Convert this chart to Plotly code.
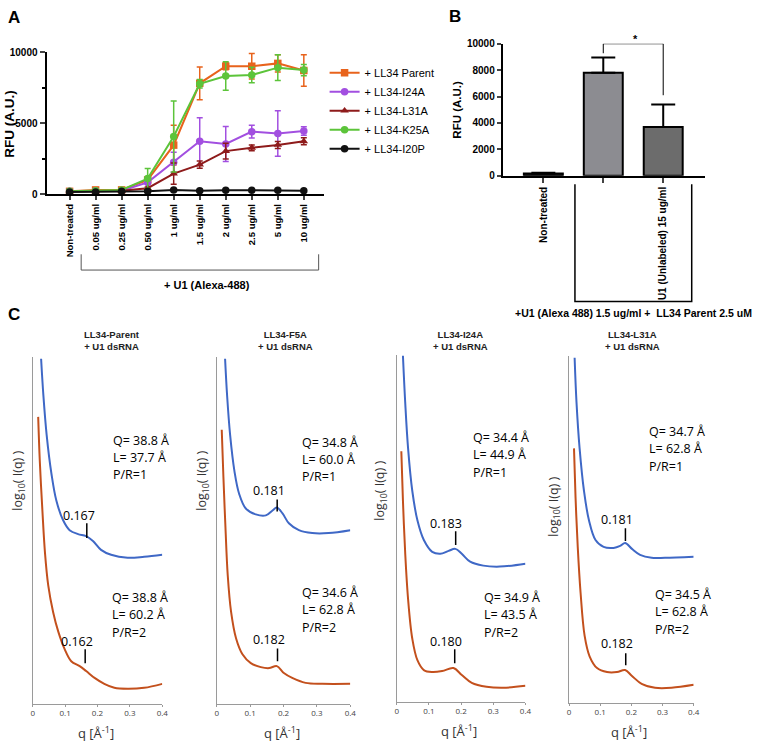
import plotly.graph_objects as go

W, H = 765, 746

# ---- Panel A: RFU vs U1 (Alexa-488) concentration ----
conc_labels = ["Non-treated", "0.05 ug/ml", "0.25 ug/ml", "0.50 ug/ml", "1 ug/ml",
               "1.5 ug/ml", "2 ug/ml", "2.5 ug/ml", "5 ug/ml", "10 ug/ml"]
parent_mean = [200, 300, 300, 1000, 3450, 7800, 9000, 9000, 9200, 8700]
parent_err = [50, 60, 60, 150, 1400, 1150, 250, 900, 600, 1100]
i24a_mean = [200, 250, 250, 830, 2250, 3720, 3530, 4400, 4270, 4450]
i24a_err = [40, 40, 50, 100, 700, 1650, 1230, 450, 1600, 300]
l31a_mean = [200, 200, 250, 420, 1450, 2080, 3030, 3260, 3460, 3720]
l31a_err = [30, 30, 40, 80, 750, 250, 550, 200, 250, 250]
k25a_mean = [200, 250, 300, 1100, 4060, 7760, 8310, 8380, 8900, 8730]
k25a_err = [40, 40, 50, 700, 2500, 300, 1000, 550, 900, 400]
i20p_mean = [150, 150, 200, 200, 300, 250, 280, 280, 280, 250]
i20p_err = [20, 20, 20, 20, 30, 20, 20, 20, 20, 20]

# ---- Panel B: competition with unlabeled U1 ----
b_labels = ["Non-treated", " ", "U1 (Unlabeled) 15 ug/ml"]
b_mean = [180, 7800, 3700]
b_err = [40, 1150, 1700]

# ---- Panel C: SAXS profiles (q in 1/A, log10 I in arbitrary units) ----
parent_q_pr1 = [0.026, 0.033, 0.043, 0.058, 0.073, 0.094, 0.114, 0.140, 0.165, 0.186, 0.211, 0.242, 0.293, 0.344, 0.400]
parent_i_pr1 = [3.50, 3.13, 2.73, 2.33, 2.06, 1.86, 1.76, 1.72, 1.70, 1.65, 1.56, 1.51, 1.48, 1.49, 1.51]
parent_q_pr2 = [0.017, 0.022, 0.030, 0.038, 0.048, 0.063, 0.079, 0.099, 0.119, 0.145, 0.165, 0.191, 0.221, 0.252, 0.293, 0.344, 0.400]
parent_i_pr2 = [2.91, 2.46, 1.96, 1.53, 1.20, 0.93, 0.73, 0.55, 0.43, 0.38, 0.33, 0.26, 0.20, 0.16, 0.15, 0.16, 0.20]

f5a_q_pr1 = [0.025, 0.031, 0.040, 0.053, 0.067, 0.087, 0.117, 0.147, 0.167, 0.180, 0.197, 0.216, 0.246, 0.286, 0.335, 0.400]
f5a_i_pr1 = [3.50, 3.13, 2.73, 2.36, 2.13, 1.98, 1.92, 1.91, 1.96, 1.99, 1.93, 1.83, 1.76, 1.73, 1.73, 1.76]
f5a_q_pr2 = [0.015, 0.020, 0.026, 0.033, 0.043, 0.058, 0.077, 0.102, 0.132, 0.157, 0.180, 0.201, 0.226, 0.266, 0.316, 0.400]
f5a_i_pr2 = [2.78, 2.30, 1.80, 1.30, 0.93, 0.66, 0.50, 0.41, 0.37, 0.36, 0.38, 0.31, 0.26, 0.21, 0.20, 0.20]

i24a_q_pr1 = [0.019, 0.026, 0.035, 0.048, 0.064, 0.084, 0.110, 0.135, 0.161, 0.182, 0.202, 0.228, 0.269, 0.320, 0.400]
i24a_i_pr1 = [3.51, 3.04, 2.57, 2.14, 1.84, 1.64, 1.52, 1.50, 1.53, 1.55, 1.50, 1.42, 1.38, 1.37, 1.40]
i24a_q_pr2 = [0.014, 0.019, 0.026, 0.035, 0.048, 0.064, 0.084, 0.110, 0.141, 0.176, 0.202, 0.233, 0.279, 0.330, 0.400]
i24a_i_pr2 = [2.54, 2.04, 1.51, 1.04, 0.64, 0.42, 0.32, 0.30, 0.31, 0.34, 0.27, 0.19, 0.15, 0.14, 0.16]

l31a_q_pr1 = [0.018, 0.024, 0.034, 0.048, 0.064, 0.085, 0.111, 0.143, 0.164, 0.180, 0.202, 0.228, 0.265, 0.308, 0.400]
l31a_i_pr1 = [3.50, 3.05, 2.58, 2.15, 1.85, 1.65, 1.58, 1.57, 1.59, 1.62, 1.56, 1.50, 1.47, 1.47, 1.48]
l31a_q_pr2 = [0.016, 0.021, 0.028, 0.037, 0.050, 0.066, 0.090, 0.122, 0.154, 0.180, 0.202, 0.233, 0.276, 0.329, 0.400]
l31a_i_pr2 = [2.58, 2.08, 1.58, 1.12, 0.68, 0.47, 0.35, 0.31, 0.31, 0.33, 0.27, 0.19, 0.15, 0.15, 0.18]

c_titles = ["LL34-Parent<br>+ U1 dsRNA", "LL34-F5A<br>+ U1 dsRNA",
            "LL34-I24A<br>+ U1 dsRNA", "LL34-L31A<br>+ U1 dsRNA"]
c_peak_pr1 = [0.167, 0.181, 0.183, 0.181]
c_peak_pr2 = [0.162, 0.182, 0.180, 0.182]
c_text_pr1 = [["Q= 38.8 Å", "L= 37.7 Å", "P/R=1"], ["Q= 34.8 Å", "L= 60.0 Å", "P/R=1"],
              ["Q= 34.4 Å", "L= 44.9 Å", "P/R=1"], ["Q= 34.7 Å", "L= 62.8 Å", "P/R=1"]]
c_text_pr2 = [["Q= 38.8 Å", "L= 60.2 Å", "P/R=2"], ["Q= 34.6 Å", "L= 62.8 Å", "P/R=2"],
              ["Q= 34.9 Å", "L= 43.5 Å", "P/R=2"], ["Q= 34.5 Å", "L= 62.8 Å", "P/R=2"]]

# pixel layout helpers
def px(x):
    return x / W

def py(y):
    return 1 - y / H

ARIAL = "Liberation Sans, Arial"
SANS = "Open Sans, Noto Sans"
BLUE = "#3f68c6"
RUST = "#c3501d"

fig = go.Figure()

# ---------- Panel A ----------
a_series = [
    ("+ LL34 Parent", parent_mean, parent_err, "#e8631c", "square"),
    ("+ LL34-I24A", i24a_mean, i24a_err, "#a24fe0", "circle"),
    ("+ LL34-L31A", l31a_mean, l31a_err, "#8e1b1b", "triangle-up"),
    ("+ LL34-K25A", k25a_mean, k25a_err, "#5cc43a", "circle"),
    ("+ LL34-I20P", i20p_mean, i20p_err, "#111111", "circle"),
]
xs = list(range(len(conc_labels)))
for name, mean, err, color, sym in a_series:
    fig.add_trace(go.Scatter(
        x=xs, y=mean, name=name, mode="lines+markers",
        line=dict(color=color, width=2),
        marker=dict(color=color, symbol=sym, size=7.5),
        error_y=dict(type="data", array=err, color=color, thickness=1.5, width=3),
        xaxis="x", yaxis="y", cliponaxis=False,
    ))

# ---------- Panel B ----------
fig.add_trace(go.Bar(
    x=[0, 1, 2], y=b_mean, width=0.65,
    marker=dict(color=["#2a2a2a", "#8c8c91", "#6c6c6c"], line=dict(color="black", width=2)),
    error_y=dict(type="data", array=b_err, arrayminus=[0, 0, 0], symmetric=False,
                 color="black", thickness=2, width=12),
    xaxis="x2", yaxis="y2", showlegend=False,
))

# ---------- Panel C ----------
c_data = [
    (parent_q_pr1, parent_i_pr1, parent_q_pr2, parent_i_pr2),
    (f5a_q_pr1, f5a_i_pr1, f5a_q_pr2, f5a_i_pr2),
    (i24a_q_pr1, i24a_i_pr1, i24a_q_pr2, i24a_i_pr2),
    (l31a_q_pr1, l31a_i_pr1, l31a_q_pr2, l31a_i_pr2),
]
for k, (q1, i1, q2, i2) in enumerate(c_data):
    ax = str(k + 3)
    fig.add_trace(go.Scatter(x=q1, y=i1, mode="lines", line=dict(color=BLUE, width=2, shape="spline"),
                             xaxis="x" + ax, yaxis="y" + ax, showlegend=False))
    fig.add_trace(go.Scatter(x=q2, y=i2, mode="lines", line=dict(color=RUST, width=2, shape="spline"),
                             xaxis="x" + ax, yaxis="y" + ax, showlegend=False))

# pixel boxes for the SAXS panels: (left, right, bottom)
c_boxes = [(31, 162, 708), (217, 352, 708), (399, 529, 706), (573, 699, 707)]
c_title_x = [111, 287, 463, 637]
c_ylab = [(17, 482), (203, 482), (383, 492), (558, 508)]
c_top_text = [(110, 441), (301, 443), (474, 438), (652, 432)]
c_bot_text = [(109, 600), (301, 595), (485, 600), (658, 597)]
c_pk1 = [(78, 517, 525, 540), (270, 492, 501, 513), (449, 525, 533, 547), (622, 521, 530, 543)]
c_pk2 = [(76, 645, 653, 667), (270, 643, 652, 665), (449, 645, 653, 667), (622, 647, 657, 669)]

layout_axes = {}
layout_axes["xaxis"] = dict(
    domain=[px(45), px(325)], range=[-0.886, 9.76], anchor="y",
    tickvals=xs, ticktext=conc_labels, tickangle=-90,
    tickfont=dict(family=ARIAL, size=9.5, color="black", weight="bold"),
    showline=True, linecolor="black", linewidth=2, ticks="outside", ticklen=4,
    tickwidth=1.5, showgrid=False, zeroline=False,
)
layout_axes["yaxis"] = dict(
    domain=[py(191), py(46.7)], range=[0, 10000], anchor="x",
    tickvals=[0, 5000, 10000], ticktext=["0", "5000", "10000"],
    tickfont=dict(family=ARIAL, size=10, color="black", weight="bold"),
    showline=True, linecolor="black", linewidth=2, ticks="outside", ticklen=5, tickwidth=2,
    minor=dict(dtick=2500, ticks="outside", ticklen=3, tickwidth=1.5, tickcolor="black"),
    showgrid=False, zeroline=False,
)
layout_axes["xaxis2"] = dict(
    domain=[px(506), px(710)], range=[-0.678, 2.69], anchor="y2",
    tickvals=[0, 1, 2], ticktext=b_labels, tickangle=-90,
    tickfont=dict(family=ARIAL, size=10, color="black", weight="bold"),
    showline=True, linecolor="black", linewidth=2, ticks="outside", ticklen=5, tickwidth=1.5,
    showgrid=False, zeroline=False,
)
layout_axes["yaxis2"] = dict(
    domain=[py(172.3), py(38.3)], range=[0, 10000], anchor="x2",
    tickvals=[0, 2000, 4000, 6000, 8000, 10000],
    ticktext=["0", "2000", "4000", "6000", "8000", "10000"],
    tickfont=dict(family=ARIAL, size=10, color="black", weight="bold"),
    showline=True, linecolor="black", linewidth=2, ticks="outside", ticklen=4, tickwidth=1.5,
    showgrid=False, zeroline=False,
)
for k, (l, r, b) in enumerate(c_boxes):
    ax = str(k + 3)
    layout_axes["xaxis" + ax] = dict(
        domain=[px(l), px(r)], range=[0, 0.4], anchor="y" + ax,
        tickvals=[0, 0.1, 0.2, 0.3, 0.4], ticktext=["0", "0.1", "0.2", "0.3", "0.4"],
        tickfont=dict(family=SANS, size=8, color="#444"),
        showline=True, linecolor="#9a9a9a", linewidth=1, ticks="outside", ticklen=2,
        tickcolor="#9a9a9a", showgrid=False, zeroline=False,
    )
    layout_axes["yaxis" + ax] = dict(
        domain=[py(b), py(b - 352)], range=[0, 3.52], anchor="x" + ax,
        showline=True, linecolor="#9a9a9a", linewidth=1, showticklabels=False, ticks="",
        showgrid=False, zeroline=False,
    )

ann = []
def text(x, y, s, size, family=ARIAL, bold=False, anchor="center", angle=0, color="black"):
    ann.append(dict(
        x=px(x), y=py(y), xref="paper", yref="paper", text=s, showarrow=False,
        xanchor=anchor, yanchor="middle", textangle=angle,
        font=dict(family=family, size=size, color=color, weight="bold" if bold else "normal"),
    ))

# panel letters
text(12, 12, "A", 17, bold=True)
text(458, 11, "B", 17, bold=True)
text(12, 313, "C", 17, bold=True)

# panel A labels
text(7.5, 119, "RFU (A.U.)", 13.5, bold=True, angle=-90)
text(207, 283, "+ U1 (Alexa-488)", 11, bold=True)

# panel B labels
text(460, 105, "RFU (A.U.)", 11.5, bold=True, angle=-90)
text(638, 312, "+U1 (Alexa 488) 1.5 ug/ml +  LL34 Parent 2.5 uM", 10.5, bold=True)
text(640, 34, "*", 11, bold=True)

# panel C labels
for k in range(4):
    text(c_title_x[k], 340, c_titles[k], 9.5, bold=True, color="#222")
    l, r, b = c_boxes[k]
    text((l + r) / 2 - 2, b + 29, "q [Å<sup>-1</sup>]", 13, family=SANS, color="#333")
    text(c_ylab[k][0], c_ylab[k][1], "log<sub>10</sub>( I(q) )", 12.5, family=SANS,
         angle=-90, color="#333")
    for j, line in enumerate(c_text_pr1[k]):
        text(c_top_text[k][0], c_top_text[k][1] + 17.5 * j, line, 12.5, family=SANS, anchor="left")
    for j, line in enumerate(c_text_pr2[k]):
        text(c_bot_text[k][0], c_bot_text[k][1] + 18 * j, line, 12.5, family=SANS, anchor="left")
    text(c_pk1[k][0], c_pk1[k][1], f"{c_peak_pr1[k]:.3f}", 12.5, family=SANS)
    text(c_pk2[k][0], c_pk2[k][1], f"{c_peak_pr2[k]:.3f}", 12.5, family=SANS)

shapes = []
# bracket under panel A
shapes.append(dict(type="path", xref="paper", yref="paper",
                   path=f"M {px(80)} {py(252)} L {px(80)} {py(268)} L {px(320)} {py(268)} L {px(320)} {py(252)}",
                   line=dict(color="#555", width=1)))
# box under panel B
shapes.append(dict(type="path", xref="paper", yref="paper",
                   path=f"M {px(579)} {py(181)} L {px(579)} {py(300)} L {px(697)} {py(300)} L {px(697)} {py(181)}",
                   line=dict(color="black", width=1.5)))
# significance bracket
shapes.append(dict(type="path", xref="x2", yref="y2",
                   path="M 1 9280 L 1 10000 L 2 10000 L 2 6100",
                   line=dict(color="black", width=1)))
# peak markers in C
for k in range(4):
    ax = str(k + 3)
    for q, pk in ((c_peak_pr1[k], c_pk1[k]), (c_peak_pr2[k], c_pk2[k])):
        shapes.append(dict(type="line", xref="x" + ax, yref="paper", x0=q, x1=q,
                           y0=py(pk[2]), y1=py(pk[3]), line=dict(color="black", width=1.5)))

fig.update_layout(
    width=W, height=H, margin=dict(l=0, r=0, t=0, b=0),
    paper_bgcolor="white", plot_bgcolor="white",
    showlegend=True,
    legend=dict(x=px(326), y=py(53), xanchor="left", yanchor="top",
                font=dict(family=ARIAL, size=11, color="black"),
                itemwidth=30, bgcolor="rgba(0,0,0,0)", tracegroupgap=0),
    annotations=ann, shapes=shapes,
    **layout_axes,
)

fig.write_html("out.html", config={"displayModeBar": False},
               post_script="document.body.style.margin='0';")
